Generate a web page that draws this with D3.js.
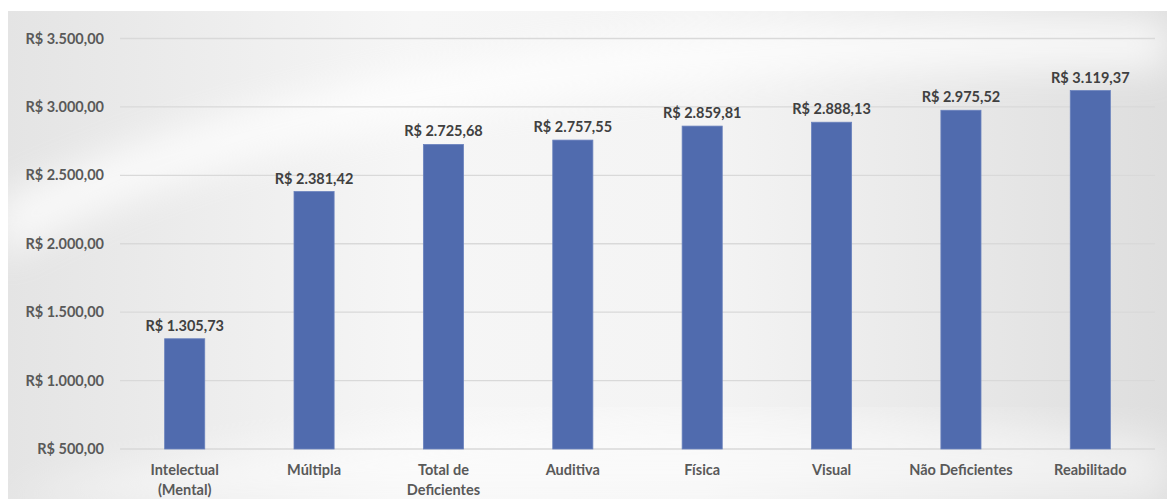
<!DOCTYPE html>
<html>
<head>
<meta charset="utf-8">
<script src="https://cdn.jsdelivr.net/npm/d3@7"></script>
<style>
  body { margin: 0; background: #fff; }
  text { font-family: Lato, "Open Sans", sans-serif; font-weight: bold; }
</style>
</head>
<body>
<div id="chart"></div>
<script>
// Chart data
var categories = ["Intelectual (Mental)", "Múltipla", "Total de Deficientes", "Auditiva", "Física", "Visual", "Não Deficientes", "Reabilitado"];
var categoryLines = [["Intelectual", "(Mental)"], ["Múltipla"], ["Total de", "Deficientes"], ["Auditiva"], ["Física"], ["Visual"], ["Não Deficientes"], ["Reabilitado"]];
var values = [1305.73, 2381.42, 2725.68, 2757.55, 2859.81, 2888.13, 2975.52, 3119.37];
var yTicks = [500, 1000, 1500, 2000, 2500, 3000, 3500];

var W = 1167, H = 499;
var margin = {top: 38.5, right: 12, bottom: 50, left: 120};
var width = W - margin.left - margin.right,
    height = H - margin.top - margin.bottom;

var svg = d3.select("#chart").append("svg")
    .attr("width", W)
    .attr("height", H);

// Background with soft swoosh
var defs = svg.append("defs");
var bg = defs.append("linearGradient").attr("id", "bg")
    .attr("x1", "0").attr("y1", "0").attr("x2", "1").attr("y2", "0");
bg.append("stop").attr("offset", "0%").attr("stop-color", "#e4e4e4");
bg.append("stop").attr("offset", "35%").attr("stop-color", "#f6f6f6");
bg.append("stop").attr("offset", "60%").attr("stop-color", "#f4f4f4");
bg.append("stop").attr("offset", "100%").attr("stop-color", "#dedede");
defs.append("filter").attr("id", "blur")
  .append("feGaussianBlur").attr("stdDeviation", 18);

svg.append("rect")
    .attr("x", 8).attr("y", 11)
    .attr("width", W - 8).attr("height", H - 11)
    .attr("fill", "url(#bg)");
svg.append("path")
    .attr("d", "M 0 260 C 250 120, 650 60, 1167 70 L 1167 20 C 700 10, 300 60, 0 200 Z")
    .attr("fill", "#ffffff")
    .attr("opacity", 0.75)
    .attr("filter", "url(#blur)");
svg.append("path")
    .attr("d", "M 0 499 C 300 420, 700 390, 1167 440 L 1167 499 Z")
    .attr("fill", "#ffffff")
    .attr("opacity", 0.5)
    .attr("filter", "url(#blur)");

var g = svg.append("g")
    .attr("transform", "translate(" + margin.left + "," + margin.top + ")");

var x = d3.scaleBand()
    .domain(categories)
    .range([0, width])
    .paddingInner(0.69)
    .paddingOuter(0.345);

var y = d3.scaleLinear()
    .domain([500, 3500])
    .range([height, 0]);

var fmt = function(v) {
  var s = v.toFixed(2).split(".");
  return "R$ " + s[0].replace(/\B(?=(\d{3})+(?!\d))/g, ".") + "," + s[1];
};

// Gridlines
g.append("g")
  .selectAll("line")
  .data(yTicks)
  .join("line")
    .attr("x1", 0).attr("x2", width)
    .attr("y1", function(d) { return y(d); })
    .attr("y2", function(d) { return y(d); })
    .attr("stroke", "#d9d9d9")
    .attr("stroke-width", 1.3);

// Y axis
var yAxis = g.append("g")
    .call(d3.axisLeft(y).tickValues(yTicks).tickSize(0).tickPadding(16).tickFormat(fmt));
yAxis.select(".domain").remove();
yAxis.selectAll("text")
    .attr("fill", "#595959")
    .style("font-size", "14.5px");

// X axis labels
var xLab = g.append("g")
    .attr("transform", "translate(0," + height + ")")
  .selectAll("text")
  .data(categories)
  .join("text")
    .attr("x", function(d) { return x(d) + x.bandwidth() / 2; })
    .attr("y", 26)
    .attr("text-anchor", "middle")
    .attr("fill", "#595959")
    .style("font-size", "14.5px");
xLab.selectAll("tspan")
  .data(function(d, i) { return categoryLines[i]; })
  .join("tspan")
    .attr("x", function() { return d3.select(this.parentNode).attr("x"); })
    .attr("dy", function(d, i) { return i === 0 ? 0 : 20; })
    .text(function(d) { return d; });

// Bars
g.append("g")
  .selectAll("rect")
  .data(values)
  .join("rect")
    .attr("x", function(d, i) { return x(categories[i]); })
    .attr("y", function(d) { return y(d); })
    .attr("width", x.bandwidth())
    .attr("height", function(d) { return height - y(d); })
    .attr("fill", "#506bae")
    .attr("stroke", "#6a82bd")
    .attr("stroke-width", 0.8);

// Data labels
g.append("g")
  .selectAll("text")
  .data(values)
  .join("text")
    .attr("x", function(d, i) { return x(categories[i]) + x.bandwidth() / 2; })
    .attr("y", function(d) { return y(d) - 8; })
    .attr("text-anchor", "middle")
    .attr("fill", "#404040")
    .style("font-size", "14.5px")
    .text(fmt);
</script>
</body>
</html>
